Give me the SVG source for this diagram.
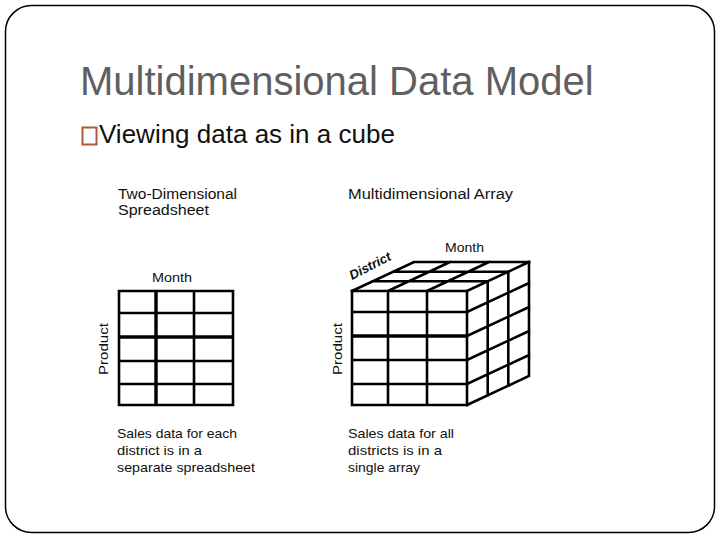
<svg xmlns="http://www.w3.org/2000/svg" width="720" height="540" viewBox="0 0 720 540">
<style>
.t{font-family:"Liberation Sans",Arial,sans-serif;fill:#111}
.lbl{font-size:14px}
.cap{font-size:13px}
.g{fill:none;stroke:#000;stroke-width:2.6;stroke-linecap:square}
</style>
<rect width="720" height="540" fill="#fff"/>
<rect x="5.5" y="5.5" width="709" height="527" rx="26" ry="26" fill="none" stroke="#000" stroke-width="1.5"/>
<g id="title">
<text class="t" x="80" y="95" font-size="40" fill="#5f5f5f" style="fill:#5f5f5f">Multidimensional Data Model</text>
</g>
<g id="bullet">
<rect x="82.5" y="127.5" width="14" height="17" fill="none" stroke="#b05a35" stroke-width="2"/>
<text class="t" x="99" y="143" font-size="26">Viewing data as in a cube</text>
</g>
<g id="spreadsheet">
<text class="t lbl" x="118" y="199" textLength="119" lengthAdjust="spacingAndGlyphs">Two-Dimensional</text>
<text class="t lbl" x="118" y="215" textLength="91" lengthAdjust="spacingAndGlyphs">Spreadsheet</text>
<text class="t cap" x="152" y="282" textLength="40" lengthAdjust="spacingAndGlyphs">Month</text>
<text class="t cap" transform="translate(108,349) rotate(-90)" text-anchor="middle" textLength="52" lengthAdjust="spacingAndGlyphs">Product</text>
<path class="g" d="M119,291H233V405H119Z M156,291V405 M194,291V405 M119,313H233 M119,361H233 M119,384H233"/>
<path d="M119,337H233" stroke="#000" stroke-width="3.4"/>
<path d="M156,291V405" stroke="#000" stroke-width="3.2"/>
<text class="t cap" x="117" y="438" textLength="120" lengthAdjust="spacingAndGlyphs">Sales data for each</text>
<text class="t cap" x="117" y="455" textLength="85" lengthAdjust="spacingAndGlyphs">district is in a</text>
<text class="t cap" x="117" y="472" textLength="138" lengthAdjust="spacingAndGlyphs">separate spreadsheet</text>
</g>
<g id="cube">
<text class="t lbl" x="348" y="199" textLength="165" lengthAdjust="spacingAndGlyphs">Multidimensional Array</text>
<text class="t cap" x="445" y="252" textLength="39" lengthAdjust="spacingAndGlyphs">Month</text>
<text class="t" font-size="13" font-weight="bold" font-style="italic" transform="translate(352,280) rotate(-27)" textLength="45" lengthAdjust="spacingAndGlyphs">District</text>
<text class="t cap" transform="translate(342,349) rotate(-90)" text-anchor="middle" textLength="52" lengthAdjust="spacingAndGlyphs">Product</text>
<path class="g" d="M352,291H467V405H352Z M388,291V405 M427,291V405 M352,312H467 M352,360H467 M352,384H467"/>
<path d="M352,336H467" stroke="#000" stroke-width="3.4"/>
<path class="g" d="M352,291L414,262H529 M388,291L450,262 M427,291L489,262 M467,291L529,262 M372.7,281.3H487.7 M393.3,271.7H508.3"/>
<path class="g" d="M529,262V376L467,405 M487.7,281.3V395.3 M508.3,271.7V385.7 M467,312L529,283 M467,336L529,307 M467,360L529,331 M467,384L529,355"/>
<text class="t cap" x="348" y="438" textLength="106" lengthAdjust="spacingAndGlyphs">Sales data for all</text>
<text class="t cap" x="348" y="455" textLength="94" lengthAdjust="spacingAndGlyphs">districts is in a</text>
<text class="t cap" x="348" y="472" textLength="72" lengthAdjust="spacingAndGlyphs">single array</text>
</g>
</svg>
